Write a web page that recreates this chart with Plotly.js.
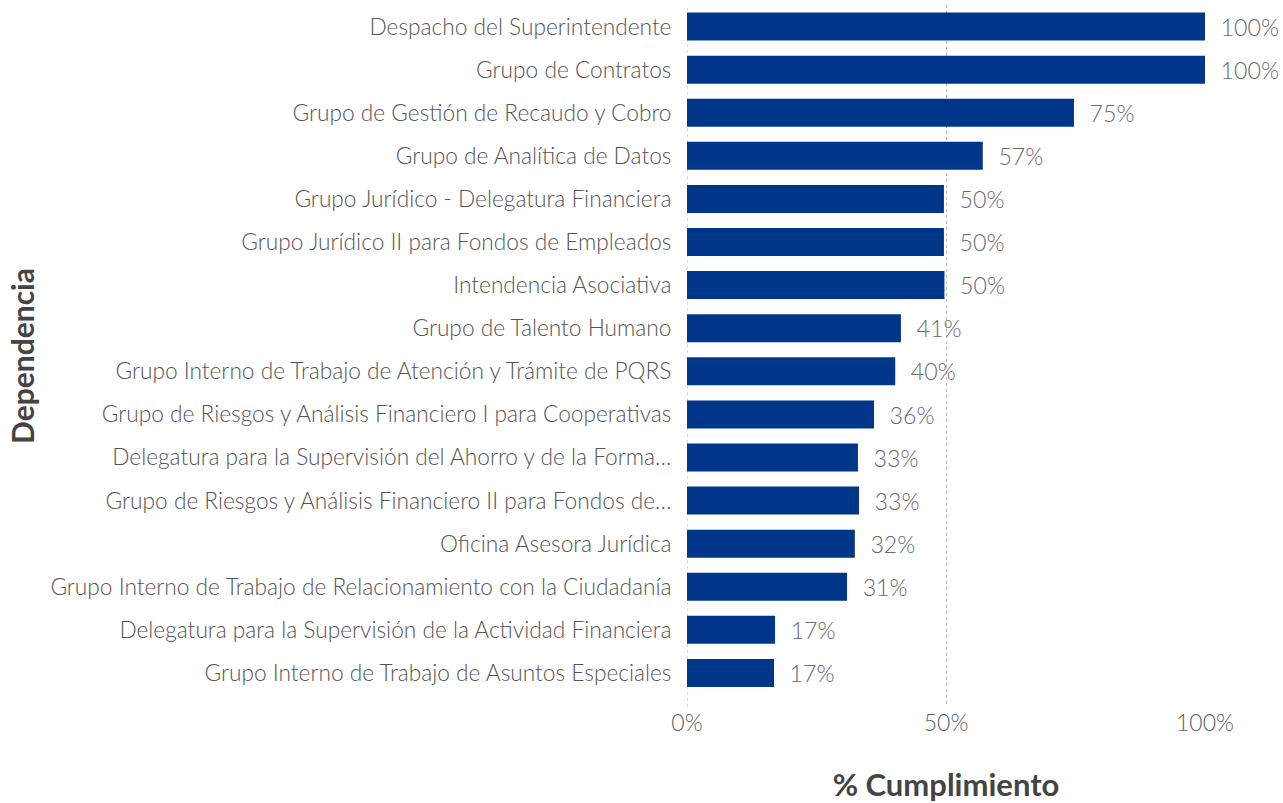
<!DOCTYPE html>
<html><head><meta charset="utf-8">
<script src="https://cdn.plot.ly/plotly-3.0.1.min.js"></script>
<style>html,body{margin:0;padding:0;background:#fff}#chart{width:1283px;height:803px}</style>
</head><body><div id="chart"></div>
<script>
const dependencias = [
  "Despacho del Superintendente",
  "Grupo de Contratos",
  "Grupo de Gestión de Recaudo y Cobro",
  "Grupo de Analítica de Datos",
  "Grupo Jurídico - Delegatura Financiera",
  "Grupo Jurídico II para Fondos de Empleados",
  "Intendencia Asociativa",
  "Grupo de Talento Humano",
  "Grupo Interno de Trabajo de Atención y Trámite de PQRS",
  "Grupo de Riesgos y Análisis Financiero I para Cooperativas",
  "Delegatura para la Supervisión del Ahorro y de la Forma…",
  "Grupo de Riesgos y Análisis Financiero II para Fondos de…",
  "Oficina Asesora Jurídica",
  "Grupo Interno de Trabajo de Relacionamiento con la Ciudadanía",
  "Delegatura para la Supervisión de la Actividad Financiera",
  "Grupo Interno de Trabajo de Asuntos Especiales"
];
const cumplimiento = [1.0, 1.0, 0.747, 0.571, 0.496, 0.496, 0.497, 0.413, 0.402, 0.361, 0.330, 0.332, 0.324, 0.309, 0.170, 0.168];
const xTickVals = [0, 0.5, 1];
const xTickText = ["0%", "50%", "100%"];

const trace = {
  type: "bar",
  orientation: "h",
  x: cumplimiento,
  y: dependencias,
  marker: {color: "#00368a"},
  text: cumplimiento.map(v => "\u00A0\u00A0" + Math.round(v * 100) + "%"),
  textposition: "outside",
  textfont: {family: "Lato, sans-serif", size: 24, color: "#6a6a6a", weight: 300},
  cliponaxis: false,
  hoverinfo: "none"
};

const layout = {
  width: 1283, height: 803,
  margin: {l: 687, r: 78, t: 5, b: 96},
  paper_bgcolor: "#fff", plot_bgcolor: "#fff",
  showlegend: false,
  bargap: 0.35,
  font: {family: "Lato, sans-serif", color: "#555"},
  xaxis: {
    range: [0, 1],
    tickvals: xTickVals, ticktext: xTickText,
    tickfont: {family: "Lato, sans-serif", size: 23, color: "#606060", weight: 300},
    showgrid: true, gridcolor: "#b8b8b8", griddash: "dot", gridwidth: 1,
    zeroline: false, showline: false,
    ticks: "", ticklen: 0,
    title: {text: "% Cumplimiento", font: {family: "Lato, sans-serif", size: 31, color: "#444", weight: 700}, standoff: 41}
  },
  yaxis: {
    type: "category",
    categoryorder: "array", categoryarray: dependencias,
    range: [15.79, -0.5],
    tickfont: {family: "Lato, sans-serif", size: 22.7, color: "#555", weight: 300},
    ticks: "outside", ticklen: 10, tickcolor: "rgba(0,0,0,0)",
    showgrid: false, zeroline: false, showline: false,
    title: {text: "Dependencia", font: {family: "Lato, sans-serif", size: 30, color: "#444", weight: 700}, standoff: 6}
  },
  shapes: [{type: "line", xref: "x", yref: "paper", x0: 0, x1: 0, y0: 0, y1: 1, line: {color: "#b8b8b8", width: 1, dash: "dot"}, layer: "below"}]
};

Plotly.newPlot("chart", [trace], layout, {displayModeBar: false, staticPlot: true});
</script></body></html>
